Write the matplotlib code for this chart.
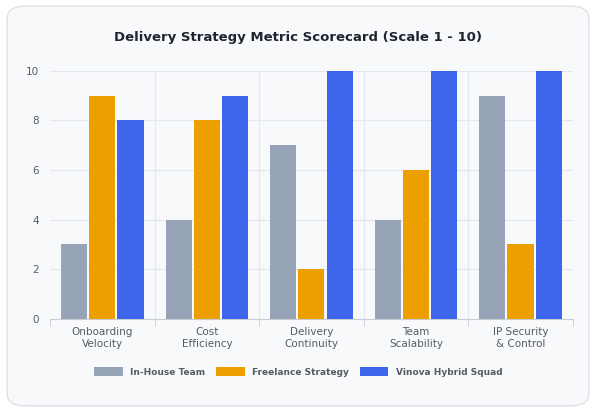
import numpy as np
import matplotlib.pyplot as plt
from matplotlib.patches import FancyBboxPatch

categories = ["Onboarding\nVelocity", "Cost\nEfficiency", "Delivery\nContinuity", "Team\nScalability", "IP Security\n& Control"]
series_names = ["In-House Team", "Freelance Strategy", "Vinova Hybrid Squad"]
in_house = [3, 4, 7, 4, 9]
freelance = [9, 8, 2, 6, 3]
vinova = [8, 9, 10, 10, 10]
colors = ["#97a3b6", "#ee9f00", "#3d66ea"]

fig = plt.figure(figsize=(5.96, 4.12), dpi=100)
fig.patch.set_facecolor("white")
card = FancyBboxPatch((0.012, 0.015), 0.976, 0.97, boxstyle="round,pad=0,rounding_size=0.03",
                      transform=fig.transFigure, facecolor="#f8f9fb", edgecolor="#dde1e7", lw=1,
                      zorder=-10)
fig.patches.append(card)

ax = fig.add_axes([0.084, 0.226, 0.877, 0.602])
ax.set_facecolor("#f8f9fb")
x = np.arange(len(categories))
w = 0.25
for i, (vals, name) in enumerate(zip([in_house, freelance, vinova], series_names)):
    ax.bar(x + (i - 1) * 0.27, vals, w, color=colors[i], label=name, zorder=3)

ax.set_xlim(-0.5, len(categories) - 0.5)
ax.set_ylim(0, 10)
ax.set_yticks(range(0, 11, 2))
ax.set_xticks(x)
ax.set_xticklabels(categories, fontsize=7.5, color="#555b66")
ax.tick_params(axis="y", labelsize=7.5, colors="#555b66", length=0, pad=8)
ax.tick_params(axis="x", length=0, pad=6)
ax.grid(axis="y", color="#e3e6eb", lw=0.8, zorder=0)
for b in np.arange(0.5, len(categories) - 0.5):
    ax.axvline(b, color="#e3e6eb", lw=0.8, zorder=0)
for s in ["top", "right", "left"]:
    ax.spines[s].set_visible(False)
ax.spines["bottom"].set_color("#c8ccd3")
ax.set_xticks(np.arange(-0.5, len(categories)), minor=True)
ax.tick_params(axis="x", which="minor", length=5, color="#c8ccd3")

fig.text(0.5, 0.91, "Delivery Strategy Metric Scorecard (Scale 1 - 10)", ha="center", va="center",
         fontsize=9.5, fontweight="bold", color="#1f2430")
leg = fig.legend(loc="center", bbox_to_anchor=(0.5, 0.097), ncol=3, frameon=False,
                 fontsize=6.5, handlelength=3.2, handleheight=1.0, columnspacing=1.2)
for t in leg.get_texts():
    t.set_color("#555b66")
    t.set_fontweight("bold")

fig.savefig("out.png", dpi=100, facecolor=fig.get_facecolor())
